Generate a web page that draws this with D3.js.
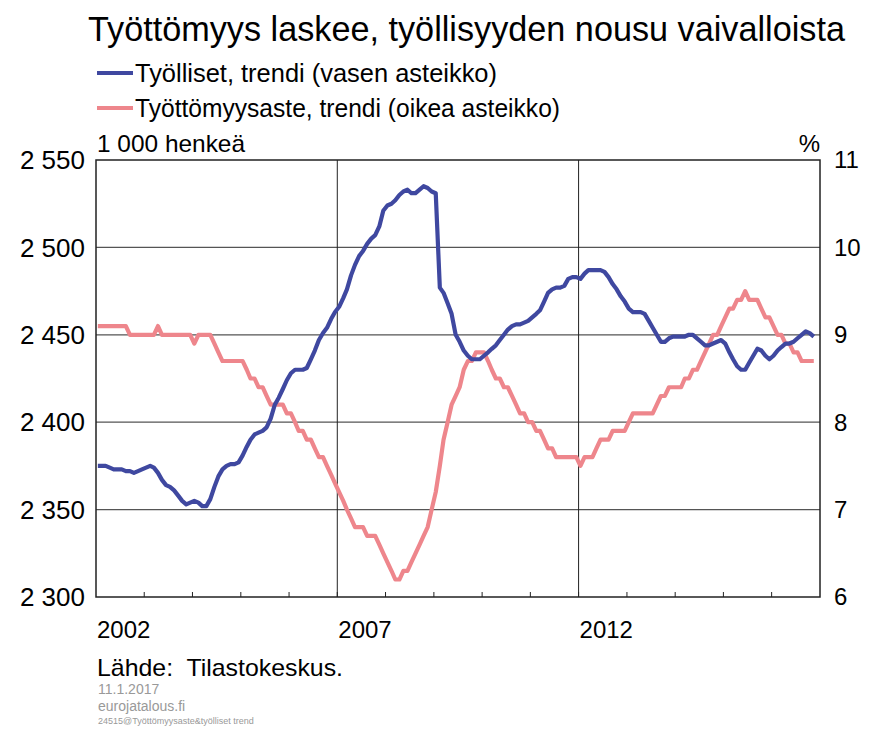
<!DOCTYPE html>
<html>
<head>
<meta charset="utf-8">
<script src="https://cdn.jsdelivr.net/npm/d3@7"></script>
<style>
  body { margin: 0; background: #fff; }
  text { font-family: "Liberation Sans", Arial, sans-serif; fill: #000; white-space: pre; }
</style>
</head>
<body>
<svg id="svg"></svg>
<script>
// monthly trend values, Jan 2002 .. Nov 2016
const startYear = 2002;
const employed = [
  2375,2375,2375,2374,2373,2373,2373,2372,2372,2371,2372,2373,
  2374,2375,2374,2371,2367,2364,2363,2361,2358,2355,2353,2354,
  2355,2354,2352,2352,2356,2363,2369,2373,2375,2376,2376,2377,
  2381,2386,2390,2393,2394,2395,2397,2402,2410,2414,2419,2424,
  2428,2430,2430,2430,2431,2436,2441,2447,2451,2454,2459,2463,
  2466,2471,2476,2484,2490,2495,2498,2502,2505,2507,2512,2521,
  2524,2525,2527,2530,2532,2533,2531,2531,2533,2535,2534,2532,
  2531,2477,2474,2468,2462,2450,2446,2441,2438,2436,2436,2436,
  2438,2440,2442,2444,2447,2450,2453,2455,2456,2456,2457,2458,
  2460,2462,2464,2469,2474,2476,2477,2477,2478,2482,2483,2483,
  2482,2485,2487,2487,2487,2487,2486,2483,2479,2476,2472,2469,
  2465,2463,2463,2463,2462,2458,2454,2450,2446,2446,2448,2449,
  2449,2449,2449,2450,2450,2448,2446,2444,2444,2445,2446,2447,
  2445,2440,2436,2432,2430,2430,2434,2438,2442,2441,2438,2436,
  2438,2441,2443,2445,2445,2446,2448,2450,2452,2451,2449
];
const unemployment = [
  9.1,9.1,9.1,9.1,9.1,9.1,9.1,9.1,9.0,9.0,9.0,9.0,
  9.0,9.0,9.0,9.1,9.0,9.0,9.0,9.0,9.0,9.0,9.0,9.0,
  8.9,9.0,9.0,9.0,9.0,8.9,8.8,8.7,8.7,8.7,8.7,8.7,
  8.7,8.6,8.5,8.5,8.4,8.4,8.3,8.2,8.2,8.2,8.2,8.1,
  8.1,8.0,7.9,7.9,7.8,7.8,7.7,7.6,7.6,7.5,7.4,7.3,
  7.2,7.1,7.0,6.9,6.8,6.8,6.8,6.7,6.7,6.7,6.6,6.5,
  6.4,6.3,6.2,6.2,6.3,6.3,6.4,6.5,6.6,6.7,6.8,7.0,
  7.2,7.5,7.8,8.0,8.2,8.3,8.4,8.6,8.7,8.7,8.8,8.8,
  8.8,8.7,8.6,8.5,8.5,8.4,8.4,8.3,8.2,8.1,8.1,8.0,
  8.0,7.9,7.9,7.8,7.7,7.7,7.6,7.6,7.6,7.6,7.6,7.6,
  7.5,7.6,7.6,7.6,7.7,7.8,7.8,7.8,7.9,7.9,7.9,7.9,
  8.0,8.1,8.1,8.1,8.1,8.1,8.1,8.2,8.3,8.3,8.4,8.4,
  8.4,8.4,8.5,8.5,8.6,8.6,8.7,8.8,8.9,9.0,9.0,9.1,
  9.2,9.3,9.3,9.4,9.4,9.5,9.4,9.4,9.4,9.3,9.2,9.2,
  9.1,9.0,9.0,8.9,8.9,8.8,8.8,8.7,8.7,8.7,8.7
];
const leftTicks = [2300, 2350, 2400, 2450, 2500, 2550];
const rightTicks = [6, 7, 8, 9, 10, 11];
const yearLabels = [2002, 2007, 2012];

const title = "Työttömyys laskee, työllisyyden nousu vaivalloista";
const seriesNames = ["Työlliset, trendi (vasen asteikko)", "Työttömyysaste, trendi (oikea asteikko)"];
const colors = ["#3f48a0", "#ee868c"];

const width = 871, height = 729;
const margin = { top: 160, right: 51, bottom: 132, left: 96 };

const svg = d3.select('#svg')
    .attr('width', width)
    .attr('height', height)
    .attr('viewBox', [0, 0, width, height]);

const x = d3.scaleTime()
    .domain([new Date(2002, 0, 1), new Date(2017, 0, 1)])
    .range([margin.left, width - margin.right]);
const yL = d3.scaleLinear().domain([2300, 2550]).range([height - margin.bottom, margin.top]);
const yR = d3.scaleLinear().domain([6, 11]).range([height - margin.bottom, margin.top]);

const dateOf = i => new Date(startYear, i, 15);

// horizontal grid
svg.append('g')
    .selectAll('line')
    .data(leftTicks.slice(1, -1))
    .join('line')
        .attr('x1', margin.left).attr('x2', width - margin.right)
        .attr('y1', d => yL(d)).attr('y2', d => yL(d))
        .attr('stroke', '#555').attr('stroke-width', 1.2);

// vertical grid at 2007 and 2012
svg.append('g')
    .selectAll('line')
    .data(yearLabels.slice(1))
    .join('line')
        .attr('x1', d => x(new Date(d, 0, 1))).attr('x2', d => x(new Date(d, 0, 1)))
        .attr('y1', margin.top).attr('y2', height - margin.bottom)
        .attr('stroke', '#222').attr('stroke-width', 1);

// year ticks on the bottom edge, pointing up
svg.append('g')
    .selectAll('line')
    .data(d3.timeYear.range(new Date(2003, 0, 1), new Date(2017, 0, 1)))
    .join('line')
        .attr('x1', d => x(d)).attr('x2', d => x(d))
        .attr('y1', height - margin.bottom).attr('y2', height - margin.bottom - 5)
        .attr('stroke', '#222');

// plot frame
svg.append('rect')
    .attr('x', margin.left).attr('y', margin.top)
    .attr('width', width - margin.left - margin.right)
    .attr('height', height - margin.top - margin.bottom)
    .attr('fill', 'none').attr('stroke', '#222').attr('stroke-width', 1.5);

// lines
const lineL = d3.line().x((d, i) => x(dateOf(i))).y(d => yL(d));
const lineR = d3.line().x((d, i) => x(dateOf(i))).y(d => yR(d));

svg.append('path')
    .attr('d', lineR(unemployment))
    .attr('fill', 'none').attr('stroke', colors[1]).attr('stroke-width', 4.2)
    .attr('stroke-linejoin', 'round');
svg.append('path')
    .attr('d', lineL(employed))
    .attr('fill', 'none').attr('stroke', colors[0]).attr('stroke-width', 4.2)
    .attr('stroke-linejoin', 'round');

// left axis labels
svg.append('g')
    .attr('text-anchor', 'end')
    .attr('font-size', 26)
    .selectAll('text')
    .data(leftTicks)
    .join('text')
        .attr('x', 85)
        .attr('y', d => yL(d))
        .attr('dy', '0.35em')
        .text(d => d3.format(',')(d).replace(',', ' '));

// right axis labels
svg.append('g')
    .attr('font-size', 24)
    .selectAll('text')
    .data(rightTicks)
    .join('text')
        .attr('x', 834)
        .attr('y', d => yR(d))
        .attr('dy', '0.35em')
        .text(d => d);

// year labels
svg.append('g')
    .attr('font-size', 24)
    .selectAll('text')
    .data(yearLabels)
    .join('text')
        .attr('x', d => x(new Date(d, 0, 1)) + 1)
        .attr('y', 638)
        .text(d => d);

// unit labels
svg.append('text').attr('x', 97).attr('y', 152).attr('font-size', 24)
    .attr('textLength', 148).attr('lengthAdjust', 'spacingAndGlyphs')
    .text('1 000 henkeä');
svg.append('text').attr('x', 820).attr('y', 152).attr('font-size', 24)
    .attr('text-anchor', 'end')
    .text('%');

// title
svg.append('text').attr('x', 88).attr('y', 41).attr('font-size', 35)
    .attr('textLength', 757).attr('lengthAdjust', 'spacingAndGlyphs')
    .text(title);

// legend
const legend = svg.append('g')
    .selectAll('g')
    .data(seriesNames)
    .join('g')
        .attr('transform', (d, i) => `translate(0,${73 + i * 35})`);
legend.append('line')
    .attr('x1', 97).attr('x2', 133)
    .attr('stroke', (d, i) => colors[i]).attr('stroke-width', 4);
legend.append('text')
    .attr('x', 135).attr('y', 0).attr('dy', '0.35em')
    .attr('font-size', 26)
    .attr('textLength', (d, i) => i ? 425 : 362)
    .attr('lengthAdjust', 'spacingAndGlyphs')
    .text(d => d);

// source and notes
svg.append('text').attr('x', 97).attr('y', 676).attr('font-size', 24)
    .attr('textLength', 246).attr('lengthAdjust', 'spacingAndGlyphs')
    .text('Lähde:  Tilastokeskus.');
svg.append('text').attr('x', 98).attr('y', 694).attr('font-size', 14)
    .style('fill', '#999')
    .text('11.1.2017');
svg.append('text').attr('x', 98).attr('y', 711).attr('font-size', 14)
    .style('fill', '#999')
    .text('eurojatalous.fi');
svg.append('text').attr('x', 98).attr('y', 724).attr('font-size', 9)
    .style('fill', '#999')
    .text('24515@Työttömyysaste&työlliset trend');
</script>
</body>
</html>
